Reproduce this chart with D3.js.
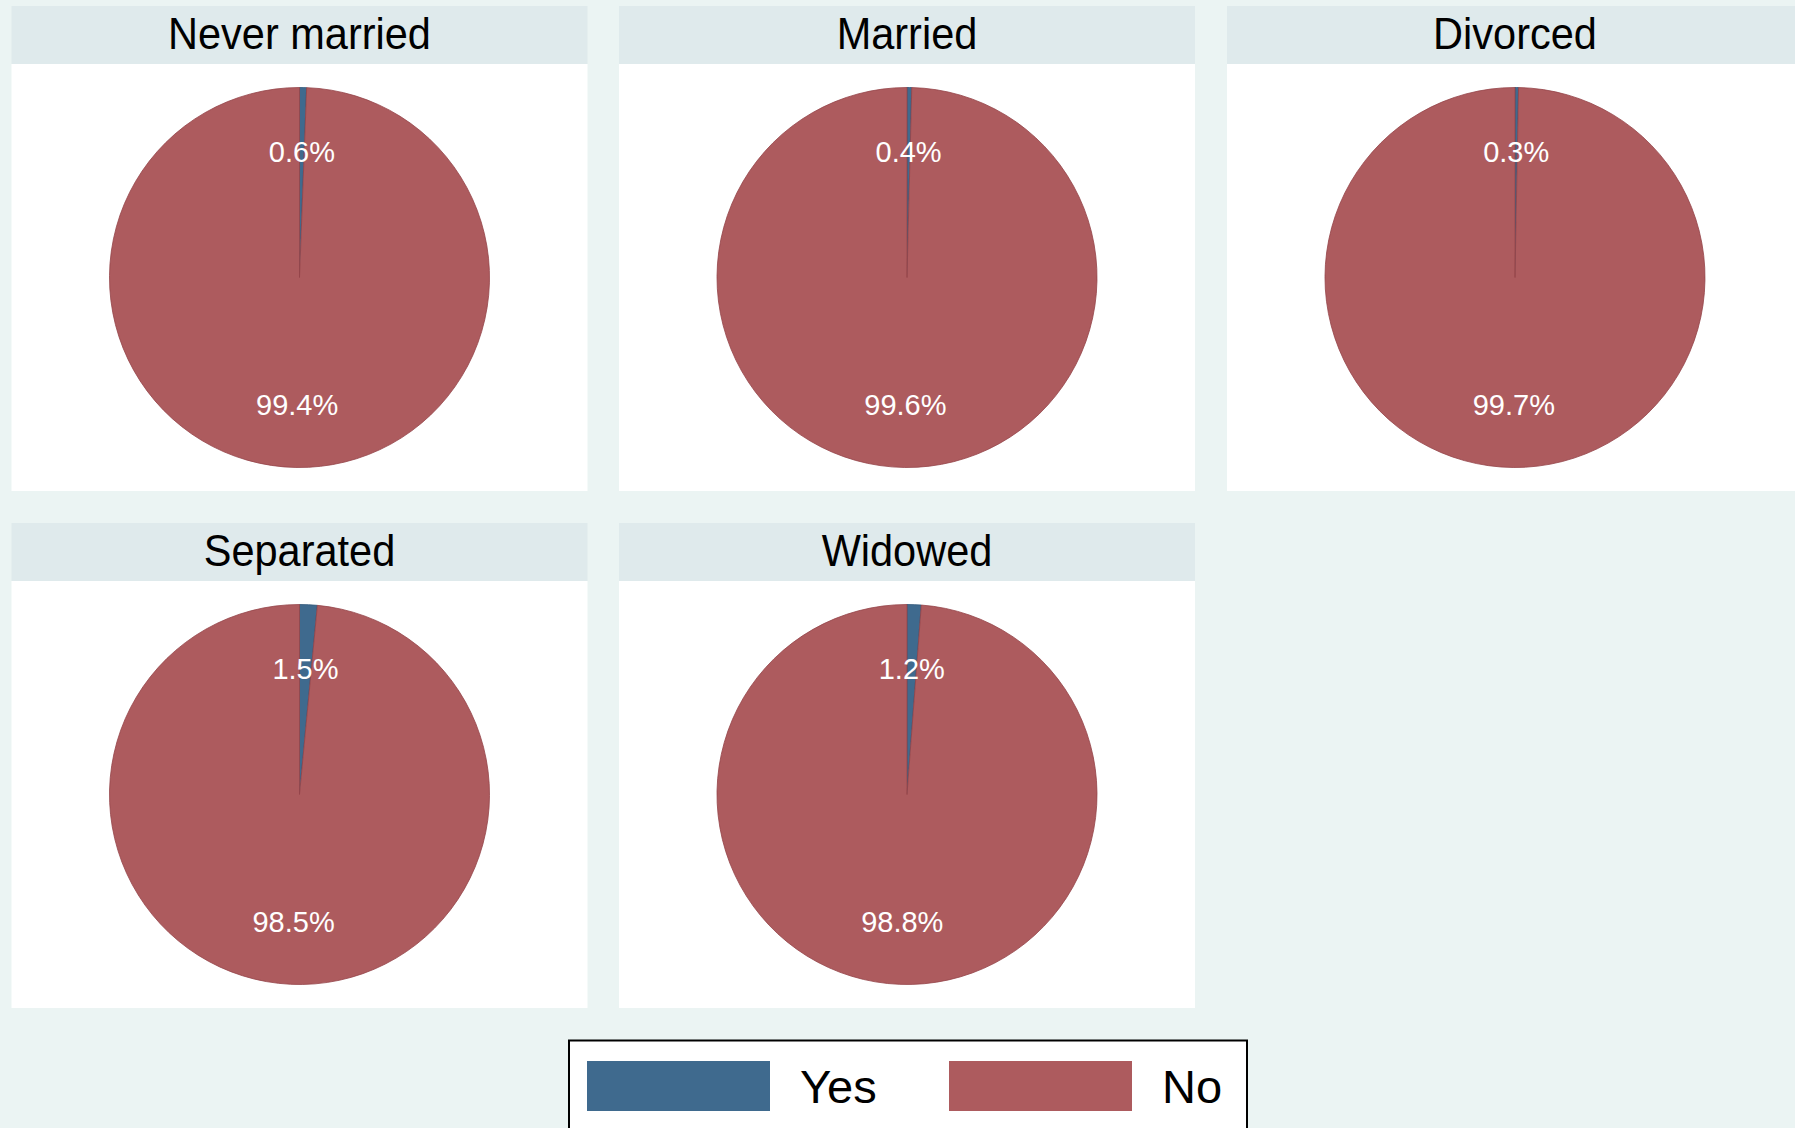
<!DOCTYPE html>
<html>
<head>
<meta charset="utf-8">
<script src="https://cdn.jsdelivr.net/npm/d3@7"></script>
<style>
html,body{margin:0;padding:0;background:#EBF4F3;}
svg{display:block;font-family:"Liberation Sans",Arial,Helvetica,sans-serif;}
</style>
</head>
<body>
<svg id="chart" width="1795" height="1128"></svg>
<script>
const panels = ["Never married", "Married", "Divorced", "Separated", "Widowed"];
const yesPct = [0.6, 0.4, 0.3, 1.5, 1.2];
const noPct = [99.4, 99.6, 99.7, 98.5, 98.8];
const seriesNames = ["Yes", "No"];
const seriesColors = ["#3F6A8E", "#AD5B5E"];
const strokeColors = ["#2f5678", "#944449"];

const W = 1795, H = 1128;
const svg = d3.select("#chart");
svg.append("rect").attr("width", W).attr("height", H).attr("fill", "#EBF4F3");

const colX = [11.5, 619, 1227];
const panelW = 576;
const rowY = [6, 523];
const headH = 58;
const plotH = 427;

const color = d3.scaleOrdinal().domain(seriesNames).range(seriesColors);
const stroke = d3.scaleOrdinal().domain(seriesNames).range(strokeColors);
const pie = d3.pie().sort(null).value(d => d.value);
const R = 190;
const arc = d3.arc().innerRadius(0).outerRadius(R);
const labelArc = d3.arc().innerRadius(R * 0.665).outerRadius(R * 0.665);

panels.forEach((name, i) => {
  const col = i % 3, row = Math.floor(i / 3);
  const x0 = colX[col], y0 = rowY[row];
  const g = svg.append("g").attr("transform", `translate(${x0},${y0})`);
  g.append("rect").attr("width", panelW).attr("height", headH).attr("fill", "#DFEAEC");
  g.append("rect").attr("y", headH).attr("width", panelW).attr("height", plotH).attr("fill", "#ffffff");
  g.append("text").attr("x", panelW / 2).attr("y", 40.5)
    .attr("text-anchor", "middle").attr("font-size", 41.5).attr("fill", "#000")
    .attr("transform", `translate(${panelW / 2},0) scale(1,1.05) translate(${-panelW / 2},0)`)
    .text(name);
  const data = [{name: "Yes", value: yesPct[i]}, {name: "No", value: noPct[i]}];
  const arcs = pie(data);
  const pg = g.append("g").attr("transform", `translate(${panelW / 2},${headH + plotH / 2})`);
  pg.selectAll("path").data(arcs).join("path")
    .attr("d", arc)
    .attr("fill", d => color(d.data.name))
    .attr("stroke", d => stroke(d.data.name))
    .attr("stroke-width", 0.8);
  pg.selectAll("text").data(arcs).join("text")
    .attr("transform", d => `translate(${labelArc.centroid(d)})`)
    .attr("text-anchor", "middle").attr("dy", "0.38em")
    .attr("font-size", 29).attr("fill", "#ffffff")
    .text(d => d3.format(".1f")(d.data.value) + "%");
});

// legend
const lg = svg.append("g");
lg.append("rect").attr("x", 569).attr("y", 1040.5).attr("width", 678).attr("height", 100)
  .attr("fill", "#ffffff").attr("stroke", "#000").attr("stroke-width", 2);
const legX = [587, 949];
seriesNames.forEach((s, k) => {
  lg.append("rect").attr("x", legX[k]).attr("y", 1061).attr("width", 183).attr("height", 50)
    .attr("fill", color(s));
  lg.append("text").attr("x", legX[k] + 213).attr("y", 1103)
    .attr("font-size", 47).attr("fill", "#000").text(s);
});
</script>
</body>
</html>
